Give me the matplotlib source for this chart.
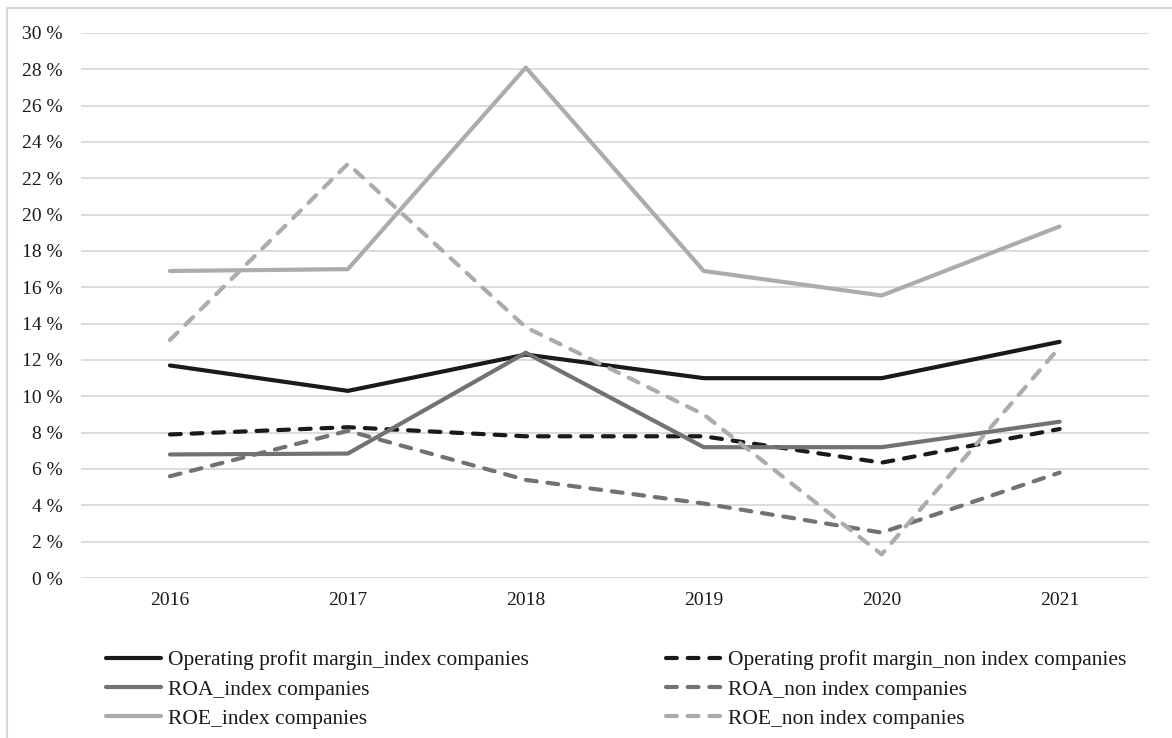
import numpy as np
import matplotlib.pyplot as plt
from matplotlib.patches import Rectangle
from matplotlib.ticker import FuncFormatter, MultipleLocator

plt.rcParams['font.family'] = ['Liberation Serif', 'DejaVu Serif']

years = ['2016', '2017', '2018', '2019', '2020', '2021']

opm_index = [11.7, 10.3, 12.3, 11.0, 11.0, 13.0]
opm_non_index = [7.9, 8.3, 7.8, 7.8, 6.35, 8.2]
roa_index = [6.8, 6.85, 12.4, 7.2, 7.2, 8.6]
roa_non_index = [5.6, 8.1, 5.4, 4.1, 2.5, 5.8]
roe_index = [16.9, 17.0, 28.1, 16.9, 15.55, 19.35]
roe_non_index = [13.1, 22.8, 13.8, 9.0, 1.3, 12.7]

series = [
    ('Operating profit margin_index companies', opm_index, '#1a1a1a', '-'),
    ('Operating profit margin_non index companies', opm_non_index, '#1a1a1a', '--'),
    ('ROA_index companies', roa_index, '#767171', '-'),
    ('ROA_non index companies', roa_non_index, '#767171', '--'),
    ('ROE_index companies', roe_index, '#afabab', '-'),
    ('ROE_non index companies', roe_non_index, '#afabab', '--'),
]

fig = plt.figure(figsize=(11.72, 7.38), dpi=100)
ax = fig.add_axes([0.0691, 0.2168, 0.9109, 0.7385])

x = np.arange(len(years))
handles = []
for label, vals, color, ls in series:
    line, = ax.plot(x, vals, color=color, lw=3.0, linestyle=ls,
                    solid_capstyle='round', dash_capstyle='round',
                    solid_joinstyle='round', dash_joinstyle='round', label=label)
    if ls == '--':
        line.set_dashes([2.6, 2.6])
    handles.append(line)

ax.set_xlim(-0.5, len(years) - 0.5)
ax.set_ylim(0, 30)
ax.yaxis.set_major_locator(MultipleLocator(2))
ax.yaxis.set_major_formatter(FuncFormatter(lambda v, p: f'{v:.0f} %'))
ax.set_xticks(x)
ax.set_xticklabels(years)
ax.grid(axis='y', color='#d9d9d9', lw=1.3)
ax.set_axisbelow(True)
for s in ax.spines.values():
    s.set_visible(False)
ax.tick_params(axis='both', length=0, labelsize=14, colors='#1a1a1a')
ax.tick_params(axis='y', pad=13)
ax.tick_params(axis='x', pad=10)

# legend: two columns, index on the left, non index on the right
order = [0, 2, 4, 1, 3, 5]
leg = fig.legend([handles[i] for i in order], [series[i][0] for i in order],
                 loc='upper left', bbox_to_anchor=(0.0905, 0.119), ncol=2,
                 frameon=False, fontsize=15.5, handlelength=2.56, handletextpad=0.3,
                 columnspacing=6.4, labelspacing=0.43, borderpad=0, borderaxespad=0)
for t in leg.get_texts():
    t.set_color('#1a1a1a')

# outer frame
fig.patches.append(Rectangle((7 / 1172, -0.1), 1.2, 1.1 - 8 / 738,
                             transform=fig.transFigure, fill=False,
                             edgecolor='#d9d9d9', lw=1.5))

fig.savefig('out.png', dpi=100, facecolor='white')
